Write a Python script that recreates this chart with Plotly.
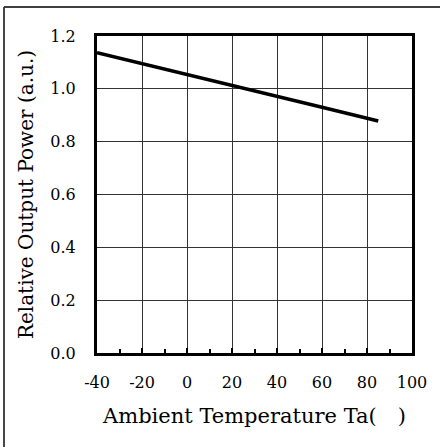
import plotly.graph_objects as go

temps = [-40, -20, 0, 20, 40, 60, 85]
power = [1.137, 1.096, 1.055, 1.015, 0.972, 0.930, 0.878]

x_ticks = [-40, -20, 0, 20, 40, 60, 80, 100]
y_ticks = [0.0, 0.2, 0.4, 0.6, 0.8, 1.0, 1.2]

FONT = "DejaVu Serif"
L, R, T, B = 97, 28, 36, 94
W, H = 440, 447

fig = go.Figure()
fig.add_trace(go.Scatter(x=temps, y=power, mode="lines",
                         line=dict(color="black", width=3.5), showlegend=False))

fig.update_layout(
    width=W, height=H,
    margin=dict(l=L, r=R, t=T, b=B, autoexpand=False),
    paper_bgcolor="white", plot_bgcolor="white",
    font=dict(family=FONT, color="black", size=16),
    xaxis=dict(range=[-40, 100], tickvals=x_ticks, ticktext=[str(v) for v in x_ticks],
               showgrid=True, gridcolor="#333333", gridwidth=1,
               showline=True, linecolor="black", linewidth=3, mirror=True,
               ticks="inside", ticklen=5, tickwidth=2, tickcolor="black",
               minor=dict(dtick=10, tick0=0, ticks="inside", ticklen=4, tickwidth=2,
                          tickcolor="black", showgrid=False),
               zeroline=False, ticklabelstandoff=13, automargin=False,
               title=dict(text="Ambient Temperature Ta(\u2003)", standoff=18,
                          font=dict(size=21))),
    yaxis=dict(range=[0, 1.2], tickvals=y_ticks, ticktext=[f"{v:.1f}" for v in y_ticks],
               showgrid=True, gridcolor="#333333", gridwidth=1,
               showline=True, linecolor="black", linewidth=3, mirror=True,
               ticks="", zeroline=False, ticklabelstandoff=15, automargin=False,
               title=dict(text="Relative Output Power (a.u.)", standoff=12,
                          font=dict(size=20))),
)

# outer frame (only top and left edges visible)
pw = W - L - R
ph = H - T - B
fx0 = (4 - L) / pw
fx1 = (W + 2 - L) / pw
fy_top = (H - B - 7) / ph
fy_bot = (H - B - (H + 2)) / ph
fig.add_shape(type="line", xref="paper", yref="paper",
              x0=fx0, x1=fx1, y0=fy_top, y1=fy_top,
              line=dict(color="black", width=1.5), layer="below")
fig.add_shape(type="line", xref="paper", yref="paper",
              x0=fx0, x1=fx0, y0=fy_top, y1=fy_bot,
              line=dict(color="#333333", width=1.8), layer="below")

fig.write_html("out.html", config={"displayModeBar": False},
               post_script="document.body.style.margin='0';document.body.style.overflow='hidden';")
